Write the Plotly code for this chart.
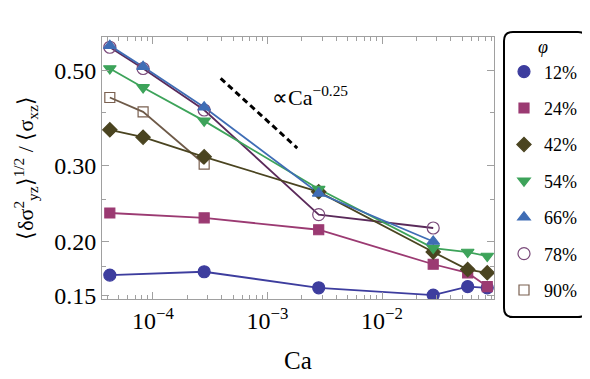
import plotly.graph_objects as go

# capillary number of each measurement
ca = [4.2e-5, 8.2e-5, 2.8e-4, 2.8e-3, 2.8e-2, 0.056, 0.083]

phi_labels = ["12%", "24%", "42%", "54%", "66%", "78%", "90%"]

# stress fluctuation ratio per volume fraction (None = not measured)
ratio_12 = [0.167, None, 0.170, 0.156, 0.150, 0.157, 0.156]
ratio_24 = [0.233, None, 0.227, 0.213, 0.177, 0.169, 0.157]
ratio_42 = [0.364, 0.350, 0.315, 0.261, 0.189, 0.172, 0.169]
ratio_54 = [0.506, 0.457, 0.382, 0.265, 0.193, 0.189, 0.185]
ratio_66 = [0.572, 0.511, 0.411, 0.259, 0.200, None, None]
ratio_78 = [0.567, 0.506, 0.405, 0.231, 0.215, None, None]
ratio_90 = [0.433, 0.401, 0.303, None, None, None, None]

# guide line  ~ Ca^-0.25
guide_ca = [3.9e-4, 1.82e-3]
guide_val = [0.480, 0.330]

x_tickvals = [1e-4, 1e-3, 1e-2]
x_ticktext = ["10<sup>−4</sup>", "10<sup>−3</sup>", "10<sup>−2</sup>"]
y_tickvals = [0.15, 0.20, 0.30, 0.50]
y_ticktext = ["0.15", "0.20", "0.30", "0.50"]

FONT = "Liberation Serif, Times New Roman, serif"
AXIS_GRAY = "#a0a0a0"

series = [
    # values, line colour, marker symbol, marker edge, size
    (ratio_12, "#3d3d9e", "circle", "#3d3d9e", 12),
    (ratio_24, "#9b3a72", "square", "#9b3a72", 10),
    (ratio_42, "#4a4420", "diamond", "#4a4420", 11),
    (ratio_54, "#3da35a", "triangle-down", "#3da35a", 11),
    (ratio_66, "#3f6db5", "triangle-up", "#3f6db5", 11),
    (ratio_78, "#5a2a5a", "circle-open", "#7a4a7a", 12),
    (ratio_90, "#6e5a48", "square-open", "#7a6050", 10),
]
draw_order = [6, 5, 0, 1, 2, 3, 4]

fig = go.Figure()

for i in draw_order:
    vals, lc, *_ = series[i]
    fig.add_trace(go.Scatter(
        x=ca, y=vals, mode="lines", connectgaps=True,
        line=dict(color=lc, width=1.8),
        showlegend=False, hoverinfo="skip",
    ))

for i in draw_order:
    vals, lc, sym, edge, size = series[i]
    fig.add_trace(go.Scatter(
        x=ca, y=vals, mode="markers",
        marker=dict(symbol=sym, size=size, color=edge, line=dict(color=edge, width=1.2)),
        name=phi_labels[i], legendrank=i + 1, legendgroup=phi_labels[i],
    ))

fig.add_trace(go.Scatter(
    x=guide_ca, y=guide_val, mode="lines",
    line=dict(color="black", width=3, dash="6px,4px"),
    showlegend=False, hoverinfo="skip",
))

fig.add_annotation(
    x=-2.978, y=-0.36, xref="x", yref="y",
    text="∝Ca<sup>−0.25</sup>", showarrow=False,
    xanchor="left", yanchor="middle",
    font=dict(family=FONT, size=22, color="black"),
)

# page body adds an 8px offset; plot box below is in window pixels
OFF = 8
L, R, T, B = 102, 494, 37, 299


def px(xp):
    return (xp - L) / (R - L)


def py(yp):
    return (B - yp) / (B - T)


# rounded legend frame (window pixels converted to paper units)
bx0, bx1, by0, by1, rad = 504, 587, 32, 317, 9
path = (
    f"M {px(bx0 + rad)},{py(by0)} L {px(bx1 - rad)},{py(by0)} "
    f"Q {px(bx1)},{py(by0)} {px(bx1)},{py(by0 + rad)} "
    f"L {px(bx1)},{py(by1 - rad)} Q {px(bx1)},{py(by1)} {px(bx1 - rad)},{py(by1)} "
    f"L {px(bx0 + rad)},{py(by1)} Q {px(bx0)},{py(by1)} {px(bx0)},{py(by1 - rad)} "
    f"L {px(bx0)},{py(by0 + rad)} Q {px(bx0)},{py(by0)} {px(bx0 + rad)},{py(by0)} Z"
)
fig.add_shape(type="path", path=path, xref="paper", yref="paper",
              line=dict(color="black", width=2))

minor_x = [k * 10.0 ** n for n in range(-5, -1) for k in range(2, 10)]

fig.update_xaxes(
    type="log", range=[-4.445, -1.022],
    tickvals=x_tickvals, ticktext=x_ticktext,
    ticks="inside", ticklen=7, tickcolor=AXIS_GRAY, tickwidth=1,
    minor=dict(tickvals=minor_x, ticks="inside", ticklen=4, tickcolor=AXIS_GRAY),
    showline=True, linecolor=AXIS_GRAY, linewidth=1, mirror="ticks",
    showgrid=False, zeroline=False,
    tickfont=dict(family=FONT, size=24, color="black"),
    title=dict(text="Ca", font=dict(family=FONT, size=25, color="black"), standoff=18),
)
fig.update_yaxes(
    type="log", range=[-0.833, -0.2225],
    tickvals=y_tickvals, ticktext=y_ticktext,
    ticks="inside", ticklen=7, tickcolor=AXIS_GRAY, tickwidth=1,
    minor=dict(tickvals=[0.175, 0.25, 0.4], ticks="inside", ticklen=4, tickcolor=AXIS_GRAY),
    showline=True, linecolor=AXIS_GRAY, linewidth=1, mirror="ticks",
    showgrid=False, zeroline=False,
    tickfont=dict(family=FONT, size=24, color="black"),
    title=dict(
        text="⟨δσ<sup>2</sup><sub>yz</sub>⟩<sup>1/2</sup> / ⟨σ<sub>xz</sub>⟩",
        font=dict(family=FONT, size=22, color="black"), standoff=14,
    ),
)

fig.update_layout(
    width=590 - OFF, height=379 - OFF,
    margin=dict(l=L - OFF, r=590 - R, t=T - OFF, b=379 - B, autoexpand=False),
    plot_bgcolor="white", paper_bgcolor="white",
    font=dict(family=FONT, color="black"),
    legend=dict(
        x=px(bx0), y=py(30), xanchor="left", yanchor="top",
        bgcolor="rgba(0,0,0,0)", borderwidth=0, maxheight=360,
        font=dict(family=FONT, size=18, color="black"),
        title=dict(text="<i>φ</i>", side="top center",
                   font=dict(family=FONT, size=18, color="black")),
        tracegroupgap=10, itemsizing="trace",
    ),
)

fig.write_html("out.html")
